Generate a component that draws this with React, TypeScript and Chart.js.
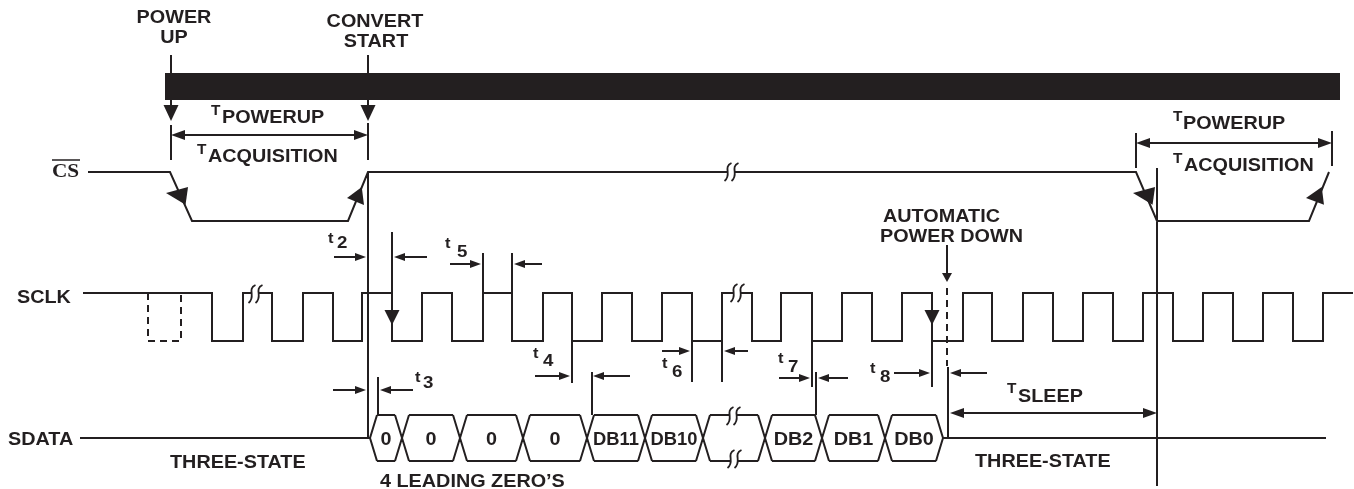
import { useEffect, useRef } from 'react';
import { Chart, registerables } from 'chart.js';

Chart.register(...registerables);

const INK = '#231f20';
const SANS = '"Liberation Sans", Arial, sans-serif';
const SERIF = '"Liberation Serif", "Times New Roman", serif';

// ---------------- timing data (time axis in diagram units) ----------------
const sclkSpan = [83, 1353];
const sclkEdges = [212, 243, 272, 303, 333, 362, 392, 422, 452, 483, 512, 543, 572, 602, 632, 662, 692, 722, 752, 781, 812, 842, 872, 902, 932, 963, 992, 1023, 1053, 1083, 1113, 1143, 1173, 1203, 1233, 1263, 1293, 1323];
const sclkGhostPulse = [148, 181];
const csSpan = [88, 1329];
const csEdges = [[170, 192], [348, 368], [1136, 1157], [1309, 1329]];
const sdataIdleLeft = [80, 370];
const sdataIdleRight = [943, 1326];
const sdataBounds = [370, 402, 460, 523, 587, 645, 703, 765, 822, 885, 943];
const sdataLabels = ['0', '0', '0', '0', 'DB11', 'DB10', '', 'DB2', 'DB1', 'DB0'];
const powerBar = [165, 1340];
const powerUpAt = 171;
const convertStartAt = 368;
const nextPowerUp = [1136, 1332];
const powerDownAt = 947;
const sleepEnd = 1157;

// ---------------- lane layout ----------------
const LANE = { barY: 86.5, barH: 27, csHi: 172, csLo: 221, sclkHi: 293, sclkLo: 341, sdTop: 415, sdMid: 438, sdBot: 461 };
const SLANT = 7;

type Pt = [number, number];
type P = { x: number; y: number | null };

const segs = (list: Pt[][]): P[] => {
  const out: P[] = [];
  list.forEach((poly) => {
    poly.forEach(([x, y]) => out.push({ x, y }));
    out.push({ x: poly[poly.length - 1][0], y: null });
  });
  return out;
};

function buildSolid(): Pt[][] {
  const polys: Pt[][] = [];
  // SCLK
  const sclk: Pt[] = [[sclkSpan[0], LANE.sclkHi]];
  let hi = true;
  sclkEdges.forEach((e) => {
    const a = hi ? LANE.sclkHi : LANE.sclkLo;
    hi = !hi;
    const b = hi ? LANE.sclkHi : LANE.sclkLo;
    sclk.push([e, a], [e, b]);
  });
  sclk.push([sclkSpan[1], hi ? LANE.sclkHi : LANE.sclkLo]);
  polys.push(sclk);
  // CS
  polys.push([
    [csSpan[0], LANE.csHi],
    [csEdges[0][0], LANE.csHi], [csEdges[0][1], LANE.csLo],
    [csEdges[1][0], LANE.csLo], [csEdges[1][1], LANE.csHi],
    [csEdges[2][0], LANE.csHi], [csEdges[2][1], LANE.csLo],
    [csEdges[3][0], LANE.csLo], [csEdges[3][1], LANE.csHi],
  ]);
  // SDATA idle
  polys.push([[sdataIdleLeft[0], LANE.sdMid], [sdataIdleLeft[1], LANE.sdMid]]);
  polys.push([[sdataIdleRight[0], LANE.sdMid], [sdataIdleRight[1], LANE.sdMid]]);
  // SDATA cells
  const n = sdataBounds.length - 1;
  for (let i = 0; i < n; i++) {
    const a = sdataBounds[i] + SLANT;
    const b = sdataBounds[i + 1] - SLANT;
    polys.push([[a, LANE.sdTop], [b, LANE.sdTop]]);
    polys.push([[a, LANE.sdBot], [b, LANE.sdBot]]);
  }
  for (let i = 1; i < n; i++) {
    const c = sdataBounds[i];
    polys.push([[c - SLANT, LANE.sdTop], [c + SLANT, LANE.sdBot]]);
    polys.push([[c - SLANT, LANE.sdBot], [c + SLANT, LANE.sdTop]]);
  }
  const f = sdataBounds[0];
  const l = sdataBounds[n];
  polys.push([[f + SLANT, LANE.sdTop], [f, LANE.sdMid], [f + SLANT, LANE.sdBot]]);
  polys.push([[l - SLANT, LANE.sdTop], [l, LANE.sdMid], [l - SLANT, LANE.sdBot]]);

  // marker shafts
  polys.push([[powerUpAt, 55], [powerUpAt, 107]]);
  polys.push([[convertStartAt, 55], [convertStartAt, 107]]);
  // T_POWERUP / T_ACQ brackets
  polys.push([[powerUpAt, 125], [powerUpAt, 160]]);
  polys.push([[convertStartAt, 123], [convertStartAt, 160]]);
  polys.push([[powerUpAt + 10, 135], [convertStartAt - 10, 135]]);
  polys.push([[nextPowerUp[0], 133], [nextPowerUp[0], 168]]);
  polys.push([[nextPowerUp[1], 131], [nextPowerUp[1], 166]]);
  polys.push([[nextPowerUp[0] + 10, 143], [nextPowerUp[1] - 10, 143]]);
  // reference verticals
  polys.push([[csEdges[1][1], LANE.csHi], [csEdges[1][1], LANE.sdMid]]);
  polys.push([[sclkEdges[6], 232], [sclkEdges[6], 312]]);
  polys.push([[sclkEdges[9], 253], [sclkEdges[9], LANE.sclkHi]]);
  polys.push([[sclkEdges[10], 253], [sclkEdges[10], LANE.sclkHi]]);
  polys.push([[sdataBounds[0] + 8, 377], [sdataBounds[0] + 8, LANE.sdTop]]);
  polys.push([[sclkEdges[12], LANE.sclkLo], [sclkEdges[12], 383]]);
  polys.push([[sdataBounds[4] + 5, 372], [sdataBounds[4] + 5, LANE.sdTop]]);
  polys.push([[sclkEdges[16], LANE.sclkLo], [sclkEdges[16], 382]]);
  polys.push([[sclkEdges[17], LANE.sclkLo], [sclkEdges[17], 382]]);
  polys.push([[sclkEdges[20], LANE.sclkLo], [sclkEdges[20], 387]]);
  polys.push([[sdataBounds[8] - 6, 372], [sdataBounds[8] - 6, LANE.sdTop]]);
  polys.push([[sclkEdges[24], LANE.sclkLo], [sclkEdges[24], 387]]);
  polys.push([[powerDownAt + 1, 367], [powerDownAt + 1, LANE.sdMid]]);
  polys.push([[sleepEnd, 168], [sleepEnd, 486]]);
  polys.push([[powerDownAt, 245], [powerDownAt, 275]]);
  // interval arrow shafts
  polys.push([[334, 257], [358, 257]], [[427, 257], [402, 257]]);
  polys.push([[450, 264], [472, 264]], [[542, 264], [522, 264]]);
  polys.push([[333, 390], [358, 390]], [[413, 390], [388, 390]]);
  polys.push([[535, 376], [562, 376]], [[630, 376], [601, 376]]);
  polys.push([[662, 351], [682, 351]], [[748, 351], [732, 351]]);
  polys.push([[779, 378], [802, 378]], [[848, 378], [826, 378]]);
  polys.push([[894, 373], [922, 373]], [[987, 373], [958, 373]]);
  polys.push([[powerDownAt + 12, 413], [sleepEnd - 10, 413]]);
  return polys;
}

function buildDashed(): Pt[][] {
  return [
    [[sclkGhostPulse[0], LANE.sclkHi], [sclkGhostPulse[0], LANE.sclkLo], [sclkGhostPulse[1], LANE.sclkLo], [sclkGhostPulse[1], LANE.sclkHi]],
    [[powerDownAt, 288], [powerDownAt, 366]],
  ];
}

// [tipX, tipY, angleDeg, length, halfWidth]
const arrowHeads: number[][] = [
  [powerUpAt, 121, 90, 16, 7.5],
  [convertStartAt, 121, 90, 16, 7.5],
  [powerUpAt, 135, 180, 14, 5], [convertStartAt, 135, 0, 14, 5],
  [nextPowerUp[0], 143, 180, 14, 5], [nextPowerUp[1], 143, 0, 14, 5],
  [powerDownAt + 3, 413, 180, 14, 5], [sleepEnd, 413, 0, 14, 5],
  [sclkEdges[6], 325, 90, 15, 7.5], [sclkEdges[24], 325, 90, 15, 7.5],
  [powerDownAt, 282, 90, 9, 5],
  [366, 257, 0, 11, 4], [394, 257, 180, 11, 4],
  [481, 264, 0, 11, 4], [514, 264, 180, 11, 4],
  [366, 390, 0, 11, 4], [380, 390, 180, 11, 4],
  [570, 376, 0, 11, 4], [593, 376, 180, 11, 4],
  [690, 351, 0, 11, 4], [724, 351, 180, 11, 4],
  [810, 378, 0, 11, 4], [818, 378, 180, 11, 4],
  [930, 373, 0, 11, 4], [950, 373, 180, 11, 4],
  [166, 193, 188, 21, 9], [347, 198, 173, 16, 9],
  [1133, 193, 188, 21, 9], [1306, 198, 173, 17, 9],
];

const breakMarks: Pt[] = [[255, 294], [737, 293], [731, 172], [733, 416], [734, 459]];

type Txt = { t: string; x: number; y: number; size: number; align?: CanvasTextAlign };
const texts: Txt[] = [
  { t: 'POWER', x: 174, y: 23, size: 18, align: 'center' },
  { t: 'UP', x: 174, y: 43, size: 18, align: 'center' },
  { t: 'CONVERT', x: 375, y: 27, size: 18, align: 'center' },
  { t: 'START', x: 376, y: 47, size: 18, align: 'center' },
  { t: 'SCLK', x: 17, y: 303, size: 18 },
  { t: 'SDATA', x: 8, y: 445, size: 18 },
  { t: 'AUTOMATIC', x: 883, y: 222, size: 18 },
  { t: 'POWER DOWN', x: 880, y: 242, size: 18 },
  { t: 'THREE-STATE', x: 170, y: 468, size: 18 },
  { t: 'THREE-STATE', x: 975, y: 467, size: 18 },
  { t: '4 LEADING ZERO\u2019S', x: 380, y: 487, size: 18 },
];

// [prefix, main, prefixX, prefixBaseline, mainX, mainBaseline, prefixSize, mainSize]
const subLabels: (string | number)[][] = [
  ['T', 'POWERUP', 211, 115, 222, 123, 14, 18],
  ['T', 'ACQUISITION', 197, 154, 208, 162, 14, 18],
  ['T', 'POWERUP', 1173, 121, 1183, 129, 14, 18],
  ['T', 'ACQUISITION', 1173, 163, 1184, 171, 14, 18],
  ['T', 'SLEEP', 1007, 393, 1018, 402, 14, 18],
  ['t', '2', 328, 243, 337, 248, 15, 17],
  ['t', '5', 445, 248, 457, 257, 15, 17],
  ['t', '3', 415, 382, 423, 388, 15, 17],
  ['t', '4', 533, 358, 543, 366, 15, 17],
  ['t', '6', 662, 368, 672, 377, 15, 17],
  ['t', '7', 778, 363, 788, 372, 15, 17],
  ['t', '8', 870, 373, 880, 382, 15, 17],
];

const HSCALE = 1.1;

const overlay = {
  id: 'overlay',
  afterDatasetsDraw(chart: any) {
    const { ctx } = chart;
    const xs = chart.scales.x;
    const ys = chart.scales.y;
    const X = (v: number) => xs.getPixelForValue(v);
    const Y = (v: number) => ys.getPixelForValue(v);
    ctx.save();
    ctx.fillStyle = INK;
    ctx.strokeStyle = INK;

    // arrowheads
    arrowHeads.forEach(([tx, ty, ang, len, hw]) => {
      const px = X(tx);
      const py = Y(ty);
      const a = (ang * Math.PI) / 180;
      const dx = Math.cos(a);
      const dy = Math.sin(a);
      const bx = px - dx * len;
      const by = py - dy * len;
      ctx.beginPath();
      ctx.moveTo(px, py);
      ctx.lineTo(bx - dy * hw, by + dx * hw);
      ctx.lineTo(bx + dy * hw, by - dx * hw);
      ctx.closePath();
      ctx.fill();
    });

    // break marks
    breakMarks.forEach(([bx0, by0]) => {
      const cx = X(bx0);
      const cy = Y(by0);
      ctx.save();
      ctx.fillStyle = '#ffffff';
      ctx.fillRect(cx - 3, cy - 3, 6, 6);
      ctx.lineWidth = 1.8;
      [-3.5, 3.5].forEach((o) => {
        const ox = cx + o;
        ctx.beginPath();
        ctx.moveTo(ox + 4, cy - 9);
        ctx.bezierCurveTo(ox - 5, cy - 5, ox + 5, cy + 3, ox - 3, cy + 9);
        ctx.stroke();
      });
      ctx.restore();
    });

    const put = (t: string, x: number, y: number, size: number, align: CanvasTextAlign = 'left', family = SANS, scale = HSCALE) => {
      ctx.save();
      ctx.font = `bold ${size}px ${family}`;
      ctx.textAlign = align;
      ctx.textBaseline = 'alphabetic';
      ctx.translate(X(x), Y(y));
      ctx.scale(scale, 1);
      ctx.fillText(t, 0, 0);
      ctx.restore();
    };

    texts.forEach((t) => put(t.t, t.x, t.y, t.size, t.align || 'left'));
    subLabels.forEach(([p, m, px, py, mx, my, ps, ms]) => {
      put(p as string, px as number, py as number, ps as number);
      put(m as string, mx as number, my as number, ms as number);
    });

    // SDATA cell labels
    for (let i = 0; i < sdataLabels.length; i++) {
      if (!sdataLabels[i]) continue;
      const c = (sdataBounds[i] + sdataBounds[i + 1]) / 2;
      const w = sdataLabels[i].length > 3 ? 1.02 : HSCALE;
      put(sdataLabels[i], c, 445, 18, 'center', SANS, w);
    }

    // CS with overbar
    put('CS', 52, 177, 19, 'left', SERIF, 1.12);
    ctx.lineWidth = 1.5;
    ctx.beginPath();
    ctx.moveTo(X(52), Y(160));
    ctx.lineTo(X(80), Y(160));
    ctx.stroke();

    ctx.restore();
  },
};

export default function App() {
  const ref = useRef<HTMLCanvasElement | null>(null);
  useEffect(() => {
    document.body.style.margin = '0';
    const canvas = ref.current;
    if (!canvas) return;
    const chart = new Chart(canvas, {
      type: 'scatter',
      data: {
        datasets: [
          {
            data: segs([[[powerBar[0], LANE.barY], [powerBar[1], LANE.barY]]]),
            borderColor: INK,
            borderWidth: LANE.barH,
            showLine: true,
            pointRadius: 0,
            borderCapStyle: 'butt',
          },
          {
            data: segs(buildSolid()),
            borderColor: INK,
            borderWidth: 2,
            showLine: true,
            pointRadius: 0,
            spanGaps: false,
            borderJoinStyle: 'miter',
            borderCapStyle: 'butt',
          },
          {
            data: segs(buildDashed()),
            borderColor: INK,
            borderWidth: 2,
            borderDash: [7, 5],
            showLine: true,
            pointRadius: 0,
            spanGaps: false,
          },
        ] as any,
      },
      options: {
        animation: false,
        responsive: false,
        events: [],
        layout: { padding: 0 },
        plugins: { legend: { display: false }, tooltip: { enabled: false } },
        scales: {
          x: { type: 'linear', min: 0, max: 1354, display: false },
          y: { type: 'linear', min: 0, max: 489, reverse: true, display: false },
        },
      },
      plugins: [overlay],
    });
    return () => chart.destroy();
  }, []);
  return (
    <div style={{ width: 1354, height: 489, background: '#fff' }}>
      <canvas ref={ref} width={1354} height={489} style={{ display: 'block' }} />
    </div>
  );
}
